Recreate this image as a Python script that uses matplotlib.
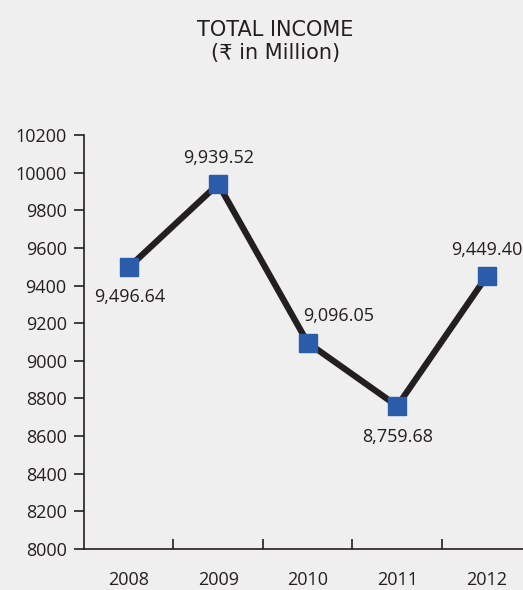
import matplotlib
matplotlib.use("Agg")
import matplotlib.pyplot as plt

years = ["2008", "2009", "2010", "2011", "2012"]
income = [9496.64, 9939.52, 9096.05, 8759.68, 9449.40]
yticks = [8000, 8200, 8400, 8600, 8800, 9000, 9200, 9400, 9600, 9800, 10000, 10200]

# where each value label sits relative to its marker (points)
label_offsets = [(1, -21), (0, 19), (22, 19), (0, -22), (0, 19)]

plt.rcParams['font.family'] = ['Open Sans', 'DejaVu Sans']
bg = '#efefef'
ink = '#231f20'

fig = plt.figure(figsize=(5.23, 5.90), dpi=100, facecolor=bg)
ax = fig.add_axes([0.1606, 0.0695, 0.8556, 0.7017], facecolor=bg)

x = list(range(len(years)))
ax.plot(x, income, color=ink, lw=4.5, zorder=2)
ax.plot(x, income, ls='none', marker='s', ms=13, color='#2a5caa', zorder=3)

for xi, v, off in zip(x, income, label_offsets):
    ax.annotate(f"{v:,.2f}", (xi, v), xytext=off, textcoords='offset points',
                ha='center', va='center', fontsize=13, color=ink)

ax.set_xlim(-0.5, 4.5)
ax.set_ylim(8000, 10200)
ax.set_yticks(yticks)
ax.set_yticklabels([str(t) for t in yticks], fontsize=13, color=ink)
ax.tick_params(axis='y', length=7.5, width=1.2, color=ink, pad=5)

# category labels centred, tick marks drawn between categories
ax.set_xticks(x)
ax.set_xticklabels(years, fontsize=13, color=ink)
ax.set_xticks([0.5, 1.5, 2.5, 3.5], minor=True)
ax.tick_params(axis='x', which='major', length=0, pad=16)
ax.tick_params(axis='x', which='minor', direction='in', length=7.5, width=1.2, color=ink)

for s in ['top', 'right']:
    ax.spines[s].set_visible(False)
for s in ['left', 'bottom']:
    ax.spines[s].set_color(ink)
    ax.spines[s].set_linewidth(1.2)

fig.text(0.526, 0.949, "TOTAL INCOME", ha='center', va='center',
         fontsize=15, color=ink, family=['DejaVu Sans'])
fig.text(0.526, 0.911, "(₹ in Million)", ha='center', va='center',
         fontsize=15, color=ink, family=['DejaVu Sans'])

fig.savefig("out.png", dpi=100, facecolor=bg)
